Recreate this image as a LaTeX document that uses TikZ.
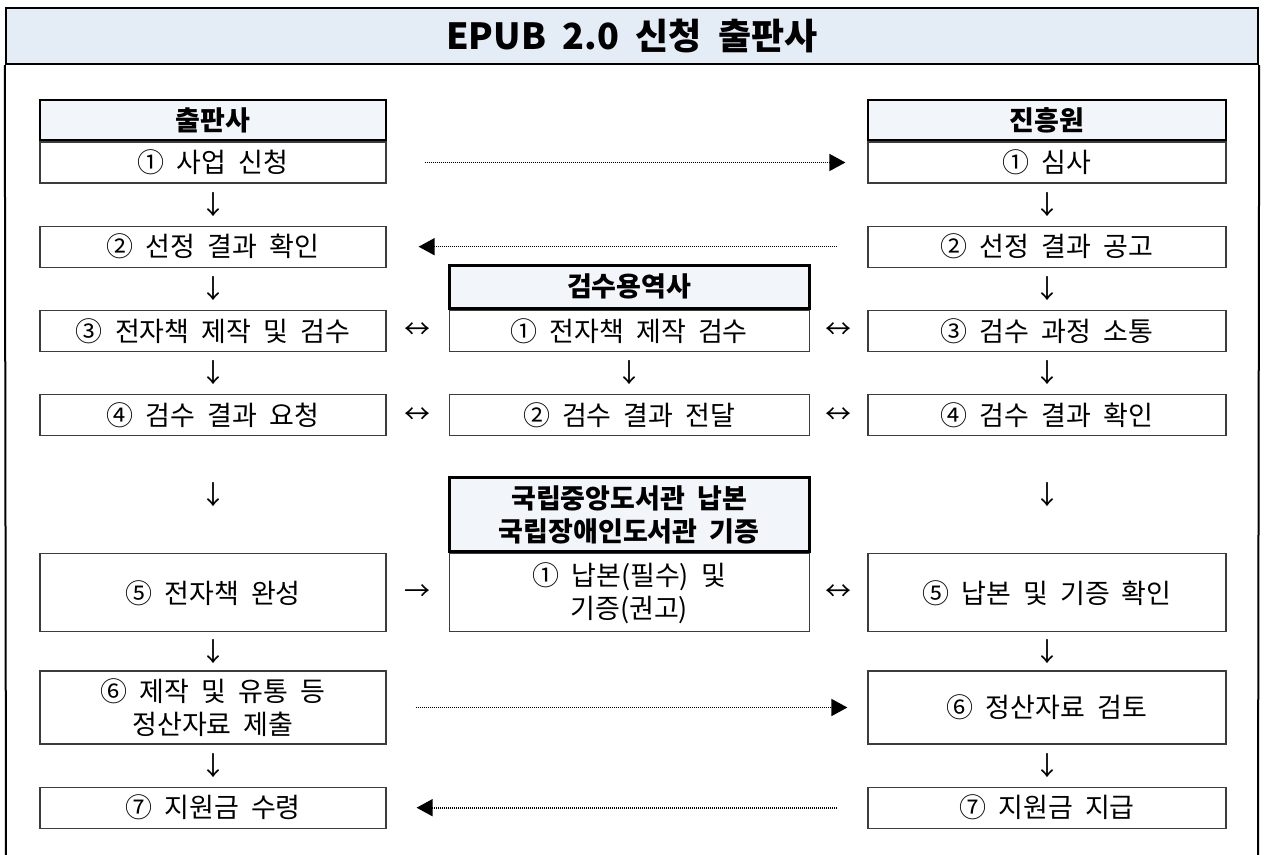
\documentclass[tikz,border=0pt]{standalone}
\usepackage{fontspec}
\setmainfont[WordSpace=2]{Noto Sans CJK KR}
\usetikzlibrary{positioning,arrows.meta}
\definecolor{titleblue}{RGB}{228,236,246}
\definecolor{headblue}{RGB}{242,245,250}
\definecolor{boxline}{RGB}{60,60,60}

\begin{document}
\begin{tikzpicture}[x=0.5pt, y=-0.5pt, node distance=21pt and 31pt,
	titlebar/.style={draw, line width=1.2pt, fill=titleblue, minimum width=626pt, minimum height=28pt, inner sep=0pt, font=\bfseries\fontsize{18}{22}\selectfont},
	headbox/.style={draw, line width=1.4pt, fill=headblue, inner sep=0pt, align=center, font=\bfseries\fontsize{13.5}{16.5}\selectfont},
	stepbox/.style={draw=boxline, line width=0.6pt, minimum height=20.5pt, inner sep=0pt, align=center, font=\fontsize{13.5}{16.5}\selectfont},
	lcol/.style={minimum width=173pt},
	mcol/.style={minimum width=180pt},
	rcol/.style={minimum width=179pt},
	sym/.style={inner sep=0pt, font=\fontsize{13}{15}\selectfont},
	flow/.style={line width=0.8pt, dash pattern=on 0.5pt off 0.5pt, -{Triangle[length=8pt,width=8.5pt]}}]
\useasboundingbox (0,0) rectangle (1264,855);
% frame
\node [titlebar] (title) at (632,36) {EPUB 2.0 신청 출판사};
\coordinate (fl) at (6,855);
\coordinate (fr) at (1258,855);
\draw [line width=1pt] (title.south west) -- (fl) (title.south east) -- (fr);
% nodes: 출판사
\node [headbox, lcol, minimum height=20pt] (pubh) at (213,120) {출판사};
\node [stepbox, lcol, below=0pt of pubh] (pub1) {① 사업 신청};
\node [stepbox, lcol, below=of pub1] (pub2) {② 선정 결과 확인};
\node [stepbox, lcol, below=of pub2] (pub3) {③ 전자책 제작 및 검수};
\node [stepbox, lcol, below=of pub3] (pub4) {④ 검수 결과 요청};
\node [stepbox, lcol, minimum height=39pt, below=58.5pt of pub4] (pub5) {⑤ 전자책 완성};
\node [stepbox, lcol, minimum height=36.5pt, below=19pt of pub5] (pub6) {⑥ 제작 및 유통 등\\정산자료 제출};
\node [stepbox, lcol, below=of pub6] (pub7) {⑦ 지원금 수령};
% nodes: 진흥원
\node [headbox, rcol, minimum height=20pt] (kpch) at (1047,120) {진흥원};
\node [stepbox, rcol, below=0pt of kpch] (kpc1) {① 심사};
\node [stepbox, rcol, below=of kpc1] (kpc2) {② 선정 결과 공고};
\node [stepbox, rcol, below=of kpc2] (kpc3) {③ 검수 과정 소통};
\node [stepbox, rcol, below=of kpc3] (kpc4) {④ 검수 결과 확인};
\node [stepbox, rcol, minimum height=39pt, below=58.5pt of kpc4] (kpc5) {⑤ 납본 및 기증 확인};
\node [stepbox, rcol, minimum height=36.5pt, below=19pt of kpc5] (kpc6) {⑥ 정산자료 검토};
\node [stepbox, rcol, below=of kpc6] (kpc7) {⑦ 지원금 지급};
% nodes: 검수용역사, 도서관
\node [stepbox, mcol, right=of pub3] (ins1) {① 전자책 제작 검수};
\node [headbox, mcol, minimum height=21.5pt, above=0pt of ins1] (insh) {검수용역사};
\node [stepbox, mcol, below=of ins1] (ins2) {② 검수 결과 전달};
\node [stepbox, mcol, minimum height=39pt, right=of pub5] (lib1) {① 납본(필수) 및\\기증(권고)};
\node [headbox, mcol, minimum height=37pt, above=0pt of lib1] (libh) {국립중앙도서관 납본\\국립장애인도서관 기증};
% marks
\path [every node/.style=sym]
	(pub1) -- node {↓} (pub2)
	(pub2) -- node {↓} (pub3)
	(pub3) -- node {↓} (pub4)
	(pub4) -- node {↓} (pub5)
	(pub5) -- node {↓} (pub6)
	(pub6) -- node {↓} (pub7)
	(kpc1) -- node {↓} (kpc2)
	(kpc2) -- node {↓} (kpc3)
	(kpc3) -- node {↓} (kpc4)
	(kpc4) -- node {↓} (kpc5)
	(kpc5) -- node {↓} (kpc6)
	(kpc6) -- node {↓} (kpc7)
	(ins1) -- node {↓} (ins2)
	(pub3) -- node {↔} (ins1)
	(ins1) -- node {↔} (kpc3)
	(pub4) -- node {↔} (ins2)
	(ins2) -- node {↔} (kpc4)
	(pub5) -- node {→} (lib1)
	(lib1) -- node {↔} (kpc5);
% arrows
\draw [flow, shorten <=19pt, shorten >=11pt] (pub1) -- (kpc1);
\draw [flow, shorten <=15pt, shorten >=16pt] (kpc2) -- (pub2);
\draw [flow, shorten <=14.5pt, shorten >=10pt] (pub6) -- (kpc6);
\draw [flow, shorten <=15pt, shorten >=15pt] (kpc7) -- (pub7);
\end{tikzpicture}
\end{document}
